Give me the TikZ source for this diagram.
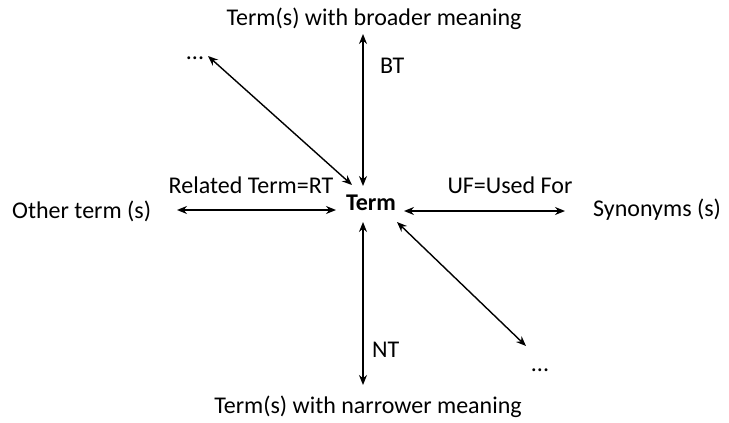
\documentclass[tikz,border=0pt]{standalone}
\usepackage{fontspec}
\setmainfont{Carlito}
\usetikzlibrary{arrows.meta, positioning}
\tikzset{
    lbl/.style={inner sep=0pt, anchor=base, font=\fontsize{24}{28}\selectfont},
    rel/.style={{Stealth[length=10pt,width=8pt]}-{Stealth[length=10pt,width=8pt]}, line width=1.4pt}
}

\begin{document}
\begin{tikzpicture}[x=1pt,y=-1pt]
    \useasboundingbox (0,0) rectangle (729,423);

    % Central term
    \node[lbl, font=\fontsize{24}{28}\selectfont\bfseries] (term) at (371,210) {Term};

    % Surrounding terms
    \node[lbl] (broader) at (374,25) {Term(s) with broader meaning};
    \node[lbl] (narrower) at (368,413) {Term(s) with narrower meaning};
    \node[lbl, anchor=base west] (other) at (12,218) {Other term (s)};
    \node[lbl, anchor=base west] (synonyms) at (593,216) {Synonyms (s)};
    \node[lbl] (dotsA) at (195,59) {...};
    \node[lbl] (dotsB) at (540,371) {...};

    % Arrow end points
    \coordinate (bt1) at (363,34);   \coordinate (bt2) at (363,186);
    \coordinate (nt1) at (363,222);  \coordinate (nt2) at (363,385);
    \coordinate (rt1) at (177,210);  \coordinate (rt2) at (336,210);
    \coordinate (uf1) at (404,211);  \coordinate (uf2) at (565,211);
    \coordinate (da1) at (208,56);   \coordinate (da2) at (352,185);
    \coordinate (db1) at (397,222);  \coordinate (db2) at (526,346);

    % Relations
    \draw[rel] (bt1) -- (bt2);
    \draw[rel] (nt1) -- (nt2);
    \draw[rel] (rt1) -- (rt2);
    \draw[rel] (uf1) -- (uf2);
    \draw[rel] (da1) -- (da2);
    \draw[rel] (db1) -- (db2);

    % Relation labels
    \node[lbl, anchor=base west] (bt) at (380,73) {BT};
    \node[lbl, anchor=base west] (nt) at (372,357) {NT};
    \node[lbl] (rt) at (251,193) {Related Term=RT};
    \node[lbl] (uf) at (510,193) {UF=Used For};
\end{tikzpicture}
\end{document}
